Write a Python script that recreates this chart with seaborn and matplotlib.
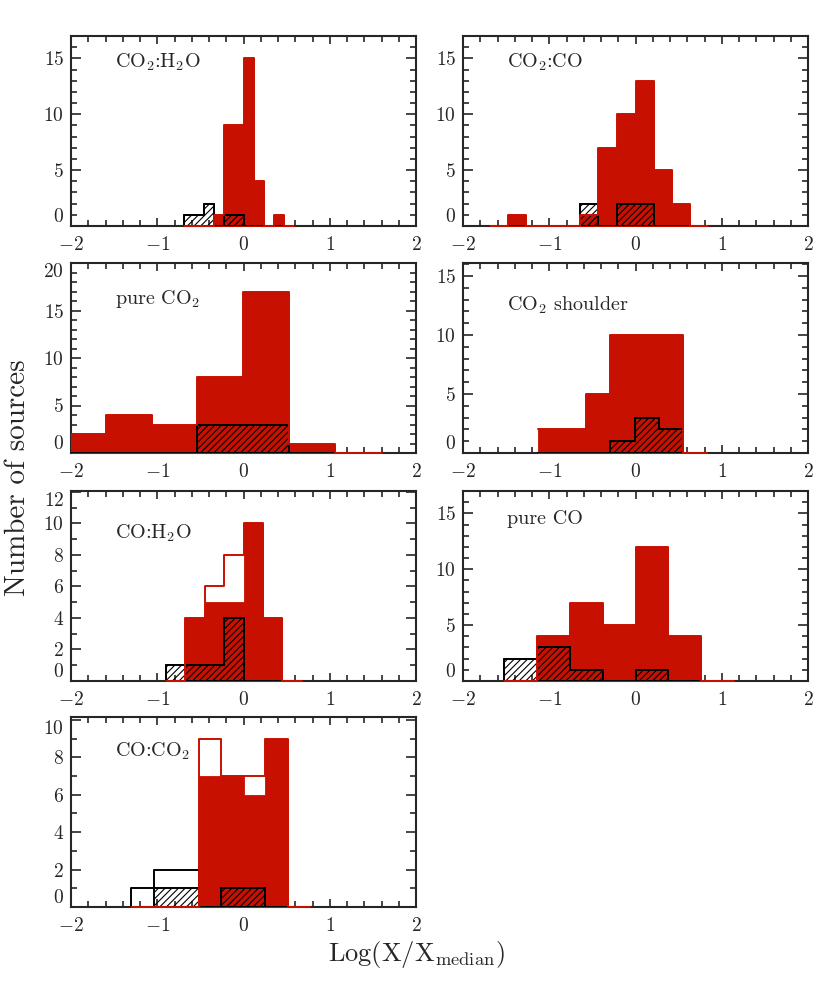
import numpy as np
import pandas as pd
import seaborn as sns
import matplotlib.pyplot as plt
from matplotlib.ticker import MultipleLocator

sns.set_style("ticks")
plt.rcParams["font.family"] = ["cmr10", "DejaVu Serif"]
plt.rcParams["mathtext.fontset"] = "cm"
plt.rcParams["axes.formatter.use_mathtext"] = True
plt.rcParams["axes.unicode_minus"] = False
plt.rcParams["hatch.linewidth"] = 0.8

red = "#c81000"

# CO2:H2O
edges_co2_h2o = [-0.69, -0.575, -0.46, -0.345, -0.23, -0.115, 0.0, 0.12, 0.235, 0.35, 0.47, 0.585]
red_co2_h2o = [0, 0, 0, 1, 9, 9, 15, 4, 0, 1, 0]
red_all_co2_h2o = red_co2_h2o
hatch_co2_h2o = [1, 1, 2, 0, 1, 1, 0, 0, 0, 0, 0]
black_all_co2_h2o = hatch_co2_h2o

# CO2:CO
edges_co2_co = [-1.69, -1.48, -1.27, -1.06, -0.85, -0.64, -0.43, -0.215, 0.0, 0.21, 0.42, 0.63, 0.84]
red_co2_co = [0, 1, 0, 0, 0, 1, 7, 10, 13, 5, 2, 0]
red_all_co2_co = red_co2_co
hatch_co2_co = [0, 0, 0, 0, 0, 2, 0, 2, 2, 0, 0, 0]
black_all_co2_co = hatch_co2_co

# pure CO2
edges_pure_co2 = [-2.14, -1.6, -1.06, -0.54, -0.01, 0.53, 1.06, 1.6]
red_pure_co2 = [2, 4, 3, 8, 17, 1, 0]
red_all_pure_co2 = red_pure_co2
hatch_pure_co2 = [0, 0, 0, 3, 3, 0, 0]
black_all_pure_co2 = hatch_pure_co2

# CO2 shoulder
edges_shoulder = [-1.13, -0.85, -0.57, -0.29, -0.01, 0.27, 0.55, 0.83]
red_shoulder = [2, 2, 5, 10, 10, 10, 0]
red_all_shoulder = red_shoulder
hatch_shoulder = [0, 0, 0, 1, 3, 2, 0]
black_all_shoulder = hatch_shoulder

# CO:H2O
edges_co_h2o = [-0.9, -0.675, -0.45, -0.225, 0.0, 0.225, 0.45, 0.675]
red_co_h2o = [0, 4, 5, 5, 10, 4, 0]
red_all_co_h2o = [0, 4, 6, 8, 10, 4, 0]
hatch_co_h2o = [1, 1, 1, 4, 0, 0, 0]
black_all_co_h2o = hatch_co_h2o

# pure CO
edges_pure_co = [-1.52, -1.14, -0.76, -0.38, 0.0, 0.38, 0.76, 1.14]
red_pure_co = [0, 4, 7, 5, 12, 4, 0]
red_all_pure_co = red_pure_co
hatch_pure_co = [2, 3, 1, 0, 1, 0, 0]
black_all_pure_co = hatch_pure_co

# CO:CO2
edges_co_co2 = [-1.3, -1.04, -0.78, -0.52, -0.26, 0.0, 0.255, 0.515, 0.77]
red_co_co2 = [0, 0, 0, 7, 7, 6, 9, 0]
red_all_co_co2 = [0, 0, 0, 9, 7, 7, 9, 0]
hatch_co_co2 = [0, 1, 1, 0, 1, 1, 0, 0]
black_all_co_co2 = [1, 2, 2, 0, 1, 1, 0, 0]

names = ["CO$_2$:H$_2$O", "CO$_2$:CO", "pure CO$_2$", "CO$_2$ shoulder",
         "CO:H$_2$O", "pure CO", "CO:CO$_2$"]
y_top = [17, 17, 20, 16.1, 12.05, 17, 10.15]
y_step = [5, 5, 5, 5, 2, 5, 2]

panels = [
    (edges_co2_h2o, red_co2_h2o, red_all_co2_h2o, hatch_co2_h2o, black_all_co2_h2o),
    (edges_co2_co, red_co2_co, red_all_co2_co, hatch_co2_co, black_all_co2_co),
    (edges_pure_co2, red_pure_co2, red_all_pure_co2, hatch_pure_co2, black_all_pure_co2),
    (edges_shoulder, red_shoulder, red_all_shoulder, hatch_shoulder, black_all_shoulder),
    (edges_co_h2o, red_co_h2o, red_all_co_h2o, hatch_co_h2o, black_all_co_h2o),
    (edges_pure_co, red_pure_co, red_all_pure_co, hatch_pure_co, black_all_pure_co),
    (edges_co_co2, red_co_co2, red_all_co_co2, hatch_co_co2, black_all_co_co2),
]

# layout (pixels of a 830x983 canvas)
W, H = 830, 983
col_left = [71, 463]
row_top = [36, 263, 491, 717]
ax_w, ax_h = 345, 190
text_y = [0.86, 0.86, 0.81, 0.78, 0.78, 0.85, 0.82]

fig = plt.figure(figsize=(W / 100, H / 100), dpi=100)

for i, (edges, rsub, rall, hsub, ball) in enumerate(panels):
    r, c = divmod(i, 2)
    ax = fig.add_axes([col_left[c] / W, 1 - (row_top[r] + ax_h) / H, ax_w / W, ax_h / H])
    e = np.asarray(edges)
    df = pd.DataFrame({"mid": (e[:-1] + e[1:]) / 2, "rsub": rsub, "rall": rall,
                       "hsub": hsub, "ball": ball})
    bins = list(edges)

    # filled red subsample
    sns.histplot(data=df, x="mid", weights="rsub", bins=bins, element="step", fill=True,
                 color=red, alpha=1, linewidth=0.6, ax=ax, zorder=3)
    # hatched black subsample
    sns.histplot(data=df, x="mid", weights="hsub", bins=bins, element="step", fill=True,
                 color="black", facecolor="none", edgecolor="black", hatch="/////",
                 linewidth=1.4, ax=ax, zorder=3.1)
    # open black, full sample
    sns.histplot(data=df, x="mid", weights="ball", bins=bins, element="step", fill=True,
                 color="black", facecolor="none", edgecolor="black",
                 linewidth=1.4, ax=ax, zorder=3.2)
    # open red, full sample
    sns.histplot(data=df, x="mid", weights="rall", bins=bins, element="step", fill=False,
                 color=red, linewidth=1.4, ax=ax, zorder=3.3)

    ax.set_xlabel("")
    ax.set_ylabel("")
    ax.set_xlim(-2, 2)
    ax.set_ylim(0, y_top[i])
    xt = [-2, -1, 0, 1, 2]
    ax.set_xticks(xt)
    ax.set_xticklabels(["$%d$" % v for v in xt], fontsize=14)
    yt = np.arange(0, y_top[i] + 0.01, y_step[i])
    ax.set_yticks(yt)
    ylabs = ax.set_yticklabels(["$%d$" % v for v in yt], fontsize=14)
    ylabs[0].set_va("bottom")
    if y_top[i] - yt[-1] < 0.1 * y_step[i]:
        ylabs[-1].set_va("top")
    ax.xaxis.set_minor_locator(MultipleLocator(0.2))
    ax.yaxis.set_minor_locator(MultipleLocator(1))
    ax.tick_params(which="both", direction="in", top=True, right=True, width=1.2)
    ax.tick_params(axis="x", which="major", length=6, pad=7)
    ax.tick_params(axis="x", which="minor", length=4)
    ax.tick_params(axis="y", which="major", length=7.5, pad=5)
    ax.tick_params(axis="y", which="minor", length=4)
    for s in ax.spines.values():
        s.set_linewidth(1.5)
    ax.text(0.128, text_y[i], names[i], transform=ax.transAxes, fontsize=14.5,
            ha="left", va="center")

fig.text(18 / W, 1 - 478 / H, "Number of sources", rotation=90,
         ha="center", va="center", fontsize=21)
fig.text(416 / W, 1 - 955 / H, r"Log(X/X$_{\rm median}$)",
         ha="center", va="center", fontsize=19)

fig.savefig("out.png", dpi=100)
